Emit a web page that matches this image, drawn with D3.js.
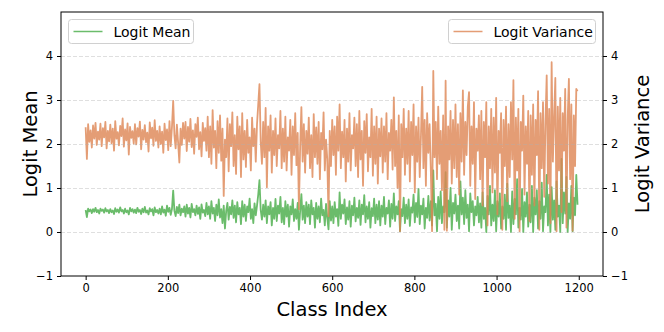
<!DOCTYPE html>
<html>
<head>
  <meta charset="utf-8">
  <style>
    body { margin: 0; background: #fff; }
    text { font-family: "DejaVu Sans", sans-serif; }
  </style>
</head>
<body>
  <div class="chart"></div>
  <script src="https://cdn.jsdelivr.net/npm/d3@7"></script>
  <script>
    // class index step between stored samples
    var step = 3;

    var xTicks = [0, 200, 400, 600, 800, 1000, 1200];
    var yTicks = [-1, 0, 1, 2, 3, 4];

    // logit mean (green), one value every 3 classes
    var logitMean = [
      0.50, 0.34, 0.53, 0.47, 0.51, 0.43, 0.52, 0.46, 0.55, 0.45, 0.50, 0.42, 0.53, 0.48, 0.51, 0.44, 0.54, 0.47, 0.50, 0.43,
      0.52, 0.45, 0.49, 0.41, 0.54, 0.46, 0.51, 0.44, 0.56, 0.47, 0.50, 0.42, 0.53, 0.45, 0.49, 0.40, 0.55, 0.47, 0.52, 0.44,
      0.51, 0.43, 0.55, 0.46, 0.50, 0.41, 0.53, 0.45, 0.57, 0.44, 0.49, 0.40, 0.54, 0.47, 0.52, 0.38, 0.56, 0.45, 0.50, 0.42,
      0.53, 0.40, 0.58, 0.44, 0.51, 0.37, 0.60, 0.46, 0.55, 0.39, 0.52, 0.94, 0.48, 0.36, 0.57, 0.43, 0.62, 0.38, 0.53, 0.45,
      0.58, 0.35, 0.62, 0.42, 0.55, 0.33, 0.64, 0.45, 0.52, 0.38, 0.60, 0.41, 0.56, 0.30, 0.63, 0.44, 0.50, 0.36, 0.66, 0.40,
      0.58, 0.30, 0.70, 0.42, 0.55, 0.25, 0.62, 0.38, 0.74, 0.33, 0.52, 0.20, 0.60, 0.08, 0.48, 0.66, 0.28, 0.57, 0.40, 0.72,
      0.32, 0.60, 0.22, 0.68, 0.40, 0.55, 0.18, 0.70, 0.35, 0.62, 0.25, 0.58, 0.45, 0.76, 0.30, 0.52, 0.20, 0.65, 0.38, 0.60,
      0.85, 1.18, 0.50, 0.28, 0.62, 0.35, 0.72, 0.20, 0.58, 0.40, 0.68, 0.15, 0.55, 0.30, 0.75, 0.25, 0.60, 0.42, 0.80, 0.22,
      0.55, 0.18, 0.70, 0.35, 0.62, 0.12, 0.58, 0.40, 0.74, 0.25, 0.52, 0.30, 0.66, 0.05, 0.48, 0.86, 0.28, 0.60, 0.20, 0.68,
      0.35, 0.62, 0.18, 0.72, 0.40, 0.55, 0.10, 0.66, 0.30, 0.58, 0.22, 0.76, 0.38, 0.50, 0.15, 0.64, 0.32, 0.06, 0.70, 0.26,
      0.58, 0.20, 0.68, 0.35, 0.52, 0.14, 0.90, 0.30, 0.62, 0.42, 0.74, 0.18, 0.56, 0.28, 0.70, 0.12, 0.60, 0.38, 0.78, 0.24,
      0.55, 0.32, 0.72, 0.16, 0.62, 0.40, 0.84, 0.22, 0.58, 0.30, 0.68, 0.10, 0.54, 0.36, 0.76, 0.20, 0.62, 0.28, 0.70, 0.15,
      0.60, 0.35, 0.80, 0.18, 0.55, 0.42, 0.72, 0.12, 0.64, 0.30, 0.88, 0.25, 0.58, 0.40, 0.70, 0.02, 0.52, 0.36, 0.78, 0.20,
      0.62, 0.30, 0.74, 0.14, 0.56, 0.44, 0.85, 0.22, 0.66, 0.34, 0.98, 0.18, 0.60, 0.40, 0.76, 0.08, 0.55, 0.32, 0.82, 0.26,
      0.70, 0.15, 1.40, 0.38, 0.64, 0.02, 0.80, 0.30, 0.92, 0.20, 0.58, 0.45, 1.36, 0.10, 0.72, 0.35, 1.00, 0.05, 0.66, 0.42,
      0.85, 0.25, 0.60, 0.08, 1.15, 0.40, 0.78, 0.18, 0.95, 0.32, 0.62, 0.02, 0.88, 0.45, 0.70, 0.15, 0.58, 0.38, 0.80, 0.22,
      0.65, 0.10, 0.90, 0.30, 0.55, 0.00, 0.82, 0.40, 1.05, 0.15, 0.62, 0.25, 0.95, 0.02, 0.70, 0.35, 0.88, 0.08, 0.58, 0.30,
      0.85, 0.05, 1.10, 0.32, 0.60, 0.00, 0.92, 0.18, 0.75, 0.40, 1.20, 0.10, 0.55, 0.28, 0.98, 0.00, 0.68, 0.35, 0.90, 0.12,
      0.62, 0.22, 1.05, 0.00, 0.78, 0.40, 0.95, 0.08, 0.70, 0.30, 1.12, 0.02, 0.58, 0.45, 1.30, 0.15, 0.85, 0.00, 1.02, 0.28,
      0.72, 0.05, 1.15, 0.35, 0.60, 0.00, 1.66, 0.20, 0.90, 0.42, 1.25, 0.00, 0.65, 0.30, 1.05, 0.02, 0.78, 0.38, 1.30, 0.62
    ];

    // logit variance (orange), one value every 3 classes
    var logitVar = [
      2.38, 1.66, 2.45, 2.05, 2.31, 1.92, 2.42, 2.12, 2.48, 1.98, 2.28, 2.10, 2.46, 1.95, 2.36, 2.15, 2.50, 1.90, 2.30, 2.06,
      2.44, 2.02, 2.35, 1.85, 2.52, 2.12, 2.27, 1.97, 2.41, 2.18, 2.58, 1.94, 2.33, 2.08, 2.47, 1.76, 2.39, 2.14, 2.29, 2.01,
      2.45, 1.99, 2.36, 2.17, 2.51, 1.88, 2.32, 2.10, 2.43, 2.04, 2.26, 1.83, 2.49, 2.13, 2.37, 1.96, 2.54, 2.07, 2.30, 1.92,
      2.40, 2.00, 2.28, 1.80, 2.46, 2.09, 2.33, 1.86, 2.52, 1.95, 2.38, 2.98, 2.20, 1.90, 2.44, 2.03, 1.58, 2.35, 1.98, 2.48,
      2.12, 2.50, 1.84, 2.39, 2.05, 2.57, 1.93, 2.31, 1.78, 2.45, 2.16, 2.60, 1.88, 2.27, 1.72, 2.48, 2.07, 2.36, 1.85, 2.62,
      1.70, 2.40, 1.55, 2.77, 1.92, 2.30, 1.45, 2.52, 1.80, 2.65, 1.62, 2.35, 0.82, 2.10, 1.70, 2.58, 1.38, 2.45, 1.95, 2.72,
      1.50, 2.20, 1.32, 2.62, 1.88, 2.40, 1.25, 2.70, 1.65, 2.30, 1.48, 2.55, 1.80, 2.15, 1.40, 2.60, 1.95, 2.35, 1.60, 2.45,
      2.90, 3.36, 2.05, 1.55, 2.50, 1.70, 2.82, 1.02, 2.40, 1.85, 2.65, 1.35, 2.30, 1.75, 2.58, 1.50, 2.20, 1.90, 2.75, 1.45,
      2.35, 1.60, 2.62, 1.40, 2.15, 1.85, 2.55, 1.30, 2.40, 1.75, 2.70, 1.52, 2.25, 0.52, 1.95, 2.84, 1.60, 2.45, 1.35, 2.30,
      1.78, 2.60, 1.45, 2.20, 1.25, 2.68, 1.70, 2.38, 1.55, 2.50, 1.20, 2.25, 1.88, 2.72, 1.40, 2.10, 1.65, 0.36, 2.30, 1.50,
      2.55, 1.75, 2.40, 1.30, 2.62, 1.85, 2.90, 1.45, 2.28, 1.70, 2.55, 1.15, 2.35, 1.60, 2.70, 1.40, 2.20, 1.90, 2.60, 1.50,
      2.45, 1.25, 2.75, 1.65, 2.30, 1.05, 2.52, 1.80, 2.68, 1.38, 2.15, 1.70, 2.80, 1.28, 2.40, 1.55, 2.62, 1.10, 2.35, 1.72,
      2.58, 1.35, 2.40, 1.60, 2.70, 1.20, 2.25, 1.85, 2.55, 1.42, 3.06, 1.50, 2.30, 1.00, 2.65, 0.02, 2.45, 1.70, 2.80, 1.30,
      2.35, 1.55, 2.75, 1.15, 2.50, 1.75, 2.90, 0.90, 2.40, 1.60, 2.60, 1.25, 2.20, 3.30, 1.45, 2.55, 1.05, 2.70, 1.80, 2.45,
      1.40, 0.02, 3.66, 1.70, 2.50, 1.20, 2.85, 1.55, 2.30, 0.95, 2.65, 0.05, 3.44, 0.03, 2.40, 1.65, 2.75, 1.10, 2.55, 1.45,
      2.90, 1.25, 2.45, 0.85, 2.70, 1.60, 3.22, 1.30, 2.50, 1.75, 2.85, 3.18, 1.05, 2.40, 1.55, 2.95, 0.75, 2.35, 1.85, 2.65,
      1.20, 2.75, 0.60, 2.50, 1.70, 2.95, 0.15, 2.40, 1.45, 2.80, 0.90, 2.60, 1.35, 3.05, 0.40, 2.30, 1.80, 2.70, 0.05, 2.55,
      1.50, 2.85, 0.70, 2.45, 1.25, 2.95, 1.65, 3.45, 0.30, 2.60, 1.40, 2.80, 0.02, 2.50, 1.85, 3.10, 0.85, 2.40, 1.55, 2.75,
      0.25, 2.65, 1.30, 2.90, 0.60, 2.55, 1.75, 3.20, 0.05, 2.70, 1.45, 2.95, 0.80, 2.50, 3.56, 1.10, 2.80, 0.20, 3.86, 1.60,
      2.60, 3.50, 0.02, 2.85, 1.40, 3.05, 0.45, 2.70, 1.85, 3.25, 0.10, 2.55, 3.48, 1.20, 2.90, 0.03, 2.65, 1.50, 3.25, 3.20
    ];

    var width = 664, height = 332;
    var plotLeft = 61, plotRight = 603, plotTop = 12, plotBottom = 276;

    var svg = d3.select(".chart").append("svg")
      .attr("width", width)
      .attr("height", height);

    var x = d3.scaleLinear().domain([-60, 1259]).range([plotLeft, plotRight]);
    var y = d3.scaleLinear().domain([-1, 5]).range([plotBottom, plotTop]);

    var line = d3.line()
      .x(function (d, i) { return x(i * step); })
      .y(function (d) { return y(d); });

    var plot = svg.append("g");

    plot.append("path")
      .datum(logitMean)
      .attr("d", line)
      .attr("fill", "none")
      .attr("stroke", "#2ca02c")
      .attr("stroke-opacity", 0.7)
      .attr("stroke-width", 1.8)
      .attr("stroke-linejoin", "round");

    plot.append("path")
      .datum(logitVar)
      .attr("d", line)
      .attr("fill", "none")
      .attr("stroke", "#dd8452")
      .attr("stroke-opacity", 0.8)
      .attr("stroke-width", 1.8)
      .attr("stroke-linejoin", "round");

    // dashed grid (drawn above the lines, like the twin axis grid)
    svg.append("g")
      .selectAll("line")
      .data(yTicks.filter(function (d) { return d > -1; }))
      .enter().append("line")
      .attr("x1", plotLeft).attr("x2", plotRight)
      .attr("y1", function (d) { return y(d) + 0.5; })
      .attr("y2", function (d) { return y(d) + 0.5; })
      .attr("stroke", "#b0b0b0")
      .attr("stroke-opacity", 0.5)
      .attr("stroke-width", 0.8)
      .attr("stroke-dasharray", "4,2");

    // axes
    var xAxis = svg.append("g")
      .attr("transform", "translate(0," + plotBottom + ")")
      .call(d3.axisBottom(x).tickValues(xTicks).tickSize(4).tickPadding(4).tickFormat(d3.format("d")));
    var yLeft = svg.append("g")
      .attr("transform", "translate(" + plotLeft + ",0)")
      .call(d3.axisLeft(y).tickValues(yTicks).tickSize(4).tickPadding(4).tickFormat(d3.format("d")));
    var yRight = svg.append("g")
      .attr("transform", "translate(" + plotRight + ",0)")
      .call(d3.axisRight(y).tickValues(yTicks).tickSize(4).tickPadding(4).tickFormat(d3.format("d")));

    [xAxis, yLeft, yRight].forEach(function (g) {
      g.select(".domain").remove();
      g.selectAll("text").style("font-size", "11.5px").style("font-family", "DejaVu Sans").attr("fill", "#000");
      g.selectAll("line").attr("stroke", "#000");
    });

    // frame
    svg.append("rect")
      .attr("x", plotLeft).attr("y", plotTop)
      .attr("width", plotRight - plotLeft).attr("height", plotBottom - plotTop)
      .attr("fill", "none")
      .attr("stroke", "#000")
      .attr("stroke-width", 1);

    // axis titles
    svg.append("text")
      .attr("transform", "translate(37," + ((plotTop + plotBottom) / 2) + ") rotate(-90)")
      .attr("text-anchor", "middle")
      .style("font-size", "19.5px")
      .text("Logit Mean");
    svg.append("text")
      .attr("transform", "translate(649," + ((plotTop + plotBottom) / 2) + ") rotate(-90)")
      .attr("text-anchor", "middle")
      .style("font-size", "19.5px")
      .text("Logit Variance");
    svg.append("text")
      .attr("x", (plotLeft + plotRight) / 2)
      .attr("y", 316)
      .attr("text-anchor", "middle")
      .style("font-size", "19.5px")
      .text("Class Index");

    // legends
    function legend(x0, w, label, color, alpha) {
      var g = svg.append("g");
      g.append("rect")
        .attr("x", x0).attr("y", 19.5)
        .attr("width", w).attr("height", 24)
        .attr("rx", 3)
        .attr("fill", "#fff").attr("fill-opacity", 0.8)
        .attr("stroke", "#d0d0d0");
      g.append("line")
        .attr("x1", x0 + 5).attr("x2", x0 + 34)
        .attr("y1", 31.5).attr("y2", 31.5)
        .attr("stroke", color).attr("stroke-opacity", alpha)
        .attr("stroke-width", 1.5);
      g.append("text")
        .attr("x", x0 + 45).attr("y", 36.5)
        .style("font-size", "14px")
        .text(label);
    }
    legend(68.5, 125, "Logit Mean", "#2ca02c", 0.7);
    legend(448.5, 147, "Logit Variance", "#dd8452", 0.8);
  </script>
</body>
</html>
